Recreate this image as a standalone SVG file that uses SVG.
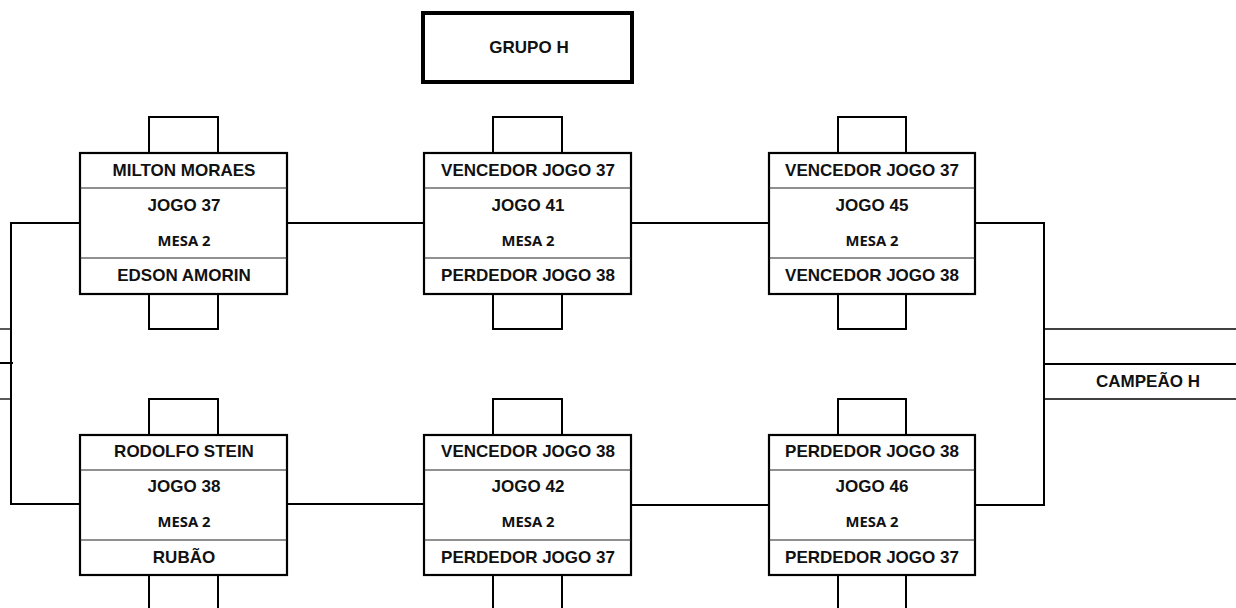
<svg xmlns="http://www.w3.org/2000/svg" width="1236" height="608" viewBox="0 0 1236 608">
<style>
.bg{fill:#fff}
.box{fill:#fff;stroke:#000;stroke-width:2.2}
.div{stroke:#222;stroke-width:1.2}
.br{fill:none;stroke:#000;stroke-width:2}
.cn{fill:none;stroke:#000;stroke-width:2}
.thin{stroke:#000;stroke-width:1.3}
.t{font-family:"Liberation Sans",Arial,sans-serif;font-weight:bold;font-size:17px;fill:#111;text-anchor:middle}
.m{font-family:"Noto Sans","Open Sans",sans-serif;font-weight:bold;font-size:14.8px;fill:#111;text-anchor:middle}
</style>
<rect class="bg" x="0" y="0" width="1236" height="608"/>

<g id="connectors">
  <path class="cn" d="M80,223 H11 V504 H80"/>
  <path class="cn" d="M287,223 H424"/>
  <path class="cn" d="M631,223 H769"/>
  <path class="cn" d="M975,223 H1044 V505 H975"/>
  <path class="cn" d="M287,504 H424"/>
  <path class="cn" d="M631,505 H769"/>
  <line class="thin" x1="0" y1="329" x2="11" y2="329"/>
  <line class="cn" x1="0" y1="363" x2="13" y2="363"/>
  <line class="thin" x1="0" y1="399" x2="11" y2="399"/>
</g>

<g id="grupo">
  <rect x="423" y="13" width="209" height="69" fill="#fff" stroke="#000" stroke-width="4"/>
  <text class="t" x="529" y="53">GRUPO H</text>
</g>

<g id="campeao">
  <line class="thin" x1="1044" y1="329" x2="1236" y2="329"/>
  <line class="cn" x1="1044" y1="364" x2="1236" y2="364"/>
  <line class="thin" x1="1044" y1="399" x2="1236" y2="399"/>
  <text class="t" x="1148" y="387">CAMPEÃO H</text>
</g>

<g id="jogo37">
  <path class="br" d="M149,153 V117 H218 V153"/>
  <path class="br" d="M149,294 V329 H218 V294"/>
  <rect class="box" x="80" y="153" width="207" height="141"/>
  <line class="div" x1="80" y1="188" x2="287" y2="188"/>
  <line class="div" x1="80" y1="258" x2="287" y2="258"/>
  <text class="t" x="184" y="176">MILTON MORAES</text>
  <text class="t" x="184" y="211">JOGO 37</text>
  <text class="m" x="184" y="245.5">MESA 2</text>
  <text class="t" x="184" y="281">EDSON AMORIN</text>
</g>

<g id="jogo41">
  <path class="br" d="M493,153 V117 H562 V153"/>
  <path class="br" d="M493,294 V329 H562 V294"/>
  <rect class="box" x="424" y="153" width="207" height="141"/>
  <line class="div" x1="424" y1="188" x2="631" y2="188"/>
  <line class="div" x1="424" y1="258" x2="631" y2="258"/>
  <text class="t" x="528" y="176">VENCEDOR JOGO 37</text>
  <text class="t" x="528" y="211">JOGO 41</text>
  <text class="m" x="528" y="245.5">MESA 2</text>
  <text class="t" x="528" y="281">PERDEDOR JOGO 38</text>
</g>

<g id="jogo45">
  <path class="br" d="M838,153 V117 H906 V153"/>
  <path class="br" d="M838,294 V329 H906 V294"/>
  <rect class="box" x="769" y="153" width="206" height="141"/>
  <line class="div" x1="769" y1="188" x2="975" y2="188"/>
  <line class="div" x1="769" y1="258" x2="975" y2="258"/>
  <text class="t" x="872" y="176">VENCEDOR JOGO 37</text>
  <text class="t" x="872" y="211">JOGO 45</text>
  <text class="m" x="872" y="245.5">MESA 2</text>
  <text class="t" x="872" y="281">VENCEDOR JOGO 38</text>
</g>

<g id="jogo38">
  <path class="br" d="M149,435 V399 H218 V435"/>
  <path class="br" d="M149,575 V610 M218,575 V610"/>
  <rect class="box" x="80" y="435" width="207" height="140"/>
  <line class="div" x1="80" y1="470" x2="287" y2="470"/>
  <line class="div" x1="80" y1="540" x2="287" y2="540"/>
  <text class="t" x="184" y="457">RODOLFO STEIN</text>
  <text class="t" x="184" y="492">JOGO 38</text>
  <text class="m" x="184" y="527">MESA 2</text>
  <text class="t" x="184" y="563">RUBÃO</text>
</g>

<g id="jogo42">
  <path class="br" d="M493,435 V399 H562 V435"/>
  <path class="br" d="M493,575 V610 M562,575 V610"/>
  <rect class="box" x="424" y="435" width="207" height="140"/>
  <line class="div" x1="424" y1="470" x2="631" y2="470"/>
  <line class="div" x1="424" y1="540" x2="631" y2="540"/>
  <text class="t" x="528" y="457">VENCEDOR JOGO 38</text>
  <text class="t" x="528" y="492">JOGO 42</text>
  <text class="m" x="528" y="527">MESA 2</text>
  <text class="t" x="528" y="563">PERDEDOR JOGO 37</text>
</g>

<g id="jogo46">
  <path class="br" d="M838,435 V399 H906 V435"/>
  <path class="br" d="M838,575 V610 M906,575 V610"/>
  <rect class="box" x="769" y="435" width="206" height="140"/>
  <line class="div" x1="769" y1="470" x2="975" y2="470"/>
  <line class="div" x1="769" y1="540" x2="975" y2="540"/>
  <text class="t" x="872" y="457">PERDEDOR JOGO 38</text>
  <text class="t" x="872" y="492">JOGO 46</text>
  <text class="m" x="872" y="527">MESA 2</text>
  <text class="t" x="872" y="563">PERDEDOR JOGO 37</text>
</g>
</svg>
